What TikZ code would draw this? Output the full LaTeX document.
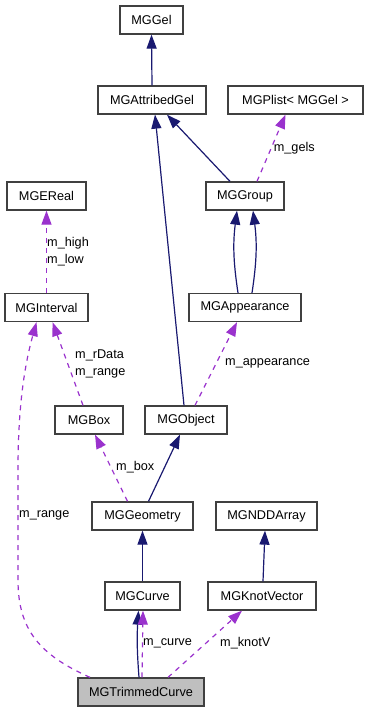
\documentclass[tikz,border=0pt]{standalone}
\usepackage{fontspec}
\setmainfont{Liberation Sans}
\usepackage{xcolor}
\usetikzlibrary{arrows.meta}
\definecolor{inheritblue}{HTML}{191970}
\definecolor{usepurple}{HTML}{9A32CD}
\definecolor{boxgray}{HTML}{404040}
\tikzset{
  cls/.style={
    rectangle,
    draw=boxgray,
    fill=white,
    line width=1.3pt,
    align=center,
    minimum height=28pt,
    inner sep=0pt,
    font=\fontsize{12.7}{15}\selectfont
  },
  current/.style={cls, fill=black!25},
  inherit/.style={-{Triangle[length=14pt,width=10pt]}, draw=inheritblue, line width=1.2pt},
  member/.style={-{Triangle[length=14pt,width=10pt]}, draw=usepurple, line width=1.2pt,
    dash pattern=on 5pt off 5pt},
  lbl/.style={anchor=west, inner sep=0pt, align=left, font=\fontsize{12.7}{17}\selectfont}
}
\begin{document}
\begin{tikzpicture}[x=1pt,y=-1pt]
  \useasboundingbox (0,0) rectangle (368,712);

  \node[cls, minimum width=63pt] (gel) at (151.5,20) {MGGel};
  \node[cls, minimum width=108pt] (attribgel) at (152,100) {MGAttribedGel};
  \node[cls, minimum width=135pt] (plist) at (295.5,100) {MGPlist< MGGel >};
  \node[cls, minimum width=79pt] (ereal) at (46.5,196) {MGEReal};
  \node[cls, minimum width=78pt] (group) at (245,196) {MGGroup};
  \node[cls, minimum width=83pt] (interval) at (46.5,307.5) {MGInterval};
  \node[cls, minimum width=112pt] (appearance) at (245,307.5) {MGAppearance};
  \node[cls, minimum width=68pt] (box) at (89,420) {MGBox};
  \node[cls, minimum width=82pt] (object) at (186,420) {MGObject};
  \node[cls, minimum width=101pt] (geometry) at (142.5,516) {MGGeometry};
  \node[cls, minimum width=101pt] (ndd) at (266.5,516) {MGNDDArray};
  \node[cls, minimum width=75pt] (curve) at (142.5,596) {MGCurve};
  \node[cls, minimum width=108pt] (knotvector) at (262,596) {MGKnotVector};
  \node[current, minimum width=126pt] (trimmed) at (141,692) {MGTrimmedCurve};

  \draw[inherit] (attribgel.north) -- (gel.south);
  \draw[inherit] ([xshift=-15pt]group.north) -- ([xshift=15pt]attribgel.south);
  \draw[inherit] ([xshift=-2pt]object.north) -- ([xshift=3pt]attribgel.south);
  \draw[member] ([xshift=12pt]group.north) -- node[lbl, pos=0.5, xshift=2pt] {m\_gels} ([xshift=-10pt]plist.south);
  \draw[inherit] ([xshift=-7pt]appearance.north) to[bend left=8] ([xshift=-8pt]group.south);
  \draw[inherit] ([xshift=7pt]appearance.north) to[bend right=8] ([xshift=8pt]group.south);
  \draw[member] (interval.north) -- (ereal.south);
  \node[lbl] (highlow) at (47,251.5) {m\_high\\m\_low};
  \draw[member] ([xshift=-6pt]box.north) -- ([xshift=6pt]interval.south);
  \node[lbl] (rdata) at (75,363.5) {m\_rData\\m\_range};
  \draw[member] ([xshift=9pt]object.north) -- ([xshift=-8pt]appearance.south);
  \node[lbl] (appl) at (225,363) {m\_appearance};
  \draw[member] ([xshift=-15pt]geometry.north) -- ([xshift=6pt]box.south);
  \node[lbl] (boxl) at (116,467) {m\_box};
  \draw[inherit] ([xshift=6pt]geometry.north) -- ([xshift=-6pt]object.south);
  \draw[inherit] (curve.north) -- (geometry.south);
  \draw[inherit] ([xshift=1pt]knotvector.north) -- ([xshift=-1.5pt]ndd.south);
  \draw[inherit] ([xshift=-2pt]trimmed.north) to[bend left=4] ([xshift=-4pt]curve.south);
  \draw[member] ([xshift=1pt]trimmed.north) -- ([xshift=0.5pt]curve.south);
  \node[lbl] (curvel) at (143,643) {m\_curve};
  \draw[member] ([xshift=27pt]trimmed.north) -- ([xshift=-20pt]knotvector.south);
  \node[lbl] (knotl) at (220,643) {m\_knotV};
  \draw[member] ([xshift=-51pt]trimmed.north) .. controls (40,655) and (18,630) .. (18,580)
    -- (18,470) .. controls (18,400) and (26,360) .. ([xshift=-10pt]interval.south);
  \node[lbl] (rangel) at (19,515) {m\_range};
\end{tikzpicture}
\end{document}
